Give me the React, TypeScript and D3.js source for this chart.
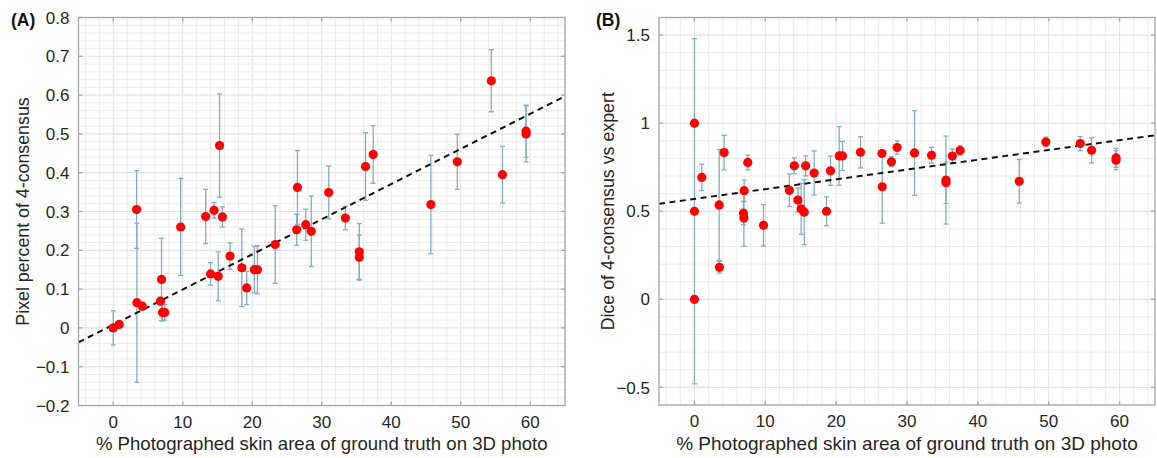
import React from "react";
import * as d3 from "d3";

// Panel A: Pixel percent of 4-consensus
const aX = [0, 0.86, 3.36, 3.4, 4.17, 6.8, 6.95, 7.1, 7.4, 9.7, 13.3, 14.0, 14.5, 15.1, 15.3, 15.7, 16.8, 18.5, 19.2, 20.3, 20.75, 23.3, 26.4, 26.5, 27.7, 28.5, 31.0, 33.4, 35.4, 35.4, 36.3, 37.4, 45.7, 49.5, 54.4, 56.0, 59.4, 59.4];
const aY = [0, 0.009, 0.305, 0.065, 0.056, 0.069, 0.125, 0.040, 0.040, 0.26, 0.287, 0.139, 0.303, 0.133, 0.47, 0.286, 0.185, 0.155, 0.103, 0.150, 0.150, 0.215, 0.253, 0.362, 0.266, 0.249, 0.349, 0.283, 0.196, 0.182, 0.416, 0.447, 0.318, 0.428, 0.637, 0.395, 0.507, 0.500];
const aErr = [0.044, 0.005, 0.1, 0.205, 0.01, 0.01, 0.106, 0.022, 0.02, 0.125, 0.07, 0.029, 0.02, 0.063, 0.133, 0.026, 0.034, 0.1, 0.043, 0.06, 0.062, 0.1, 0.04, 0.095, 0.04, 0.091, 0.068, 0.03, 0.073, 0.057, 0.087, 0.074, 0.127, 0.071, 0.08, 0.073, 0.067, 0.072];
const aFit = [0.0083, 0.00906]; // intercept, slope

// Panel B: Dice of 4-consensus vs expert
const bX = [0, 0, 0, 1.04, 3.49, 3.53, 4.19, 6.92, 6.98, 7.02, 7.53, 9.75, 13.4, 14.1, 14.6, 15.06, 15.5, 15.7, 16.9, 18.64, 19.2, 20.43, 20.9, 23.44, 26.46, 26.5, 27.8, 28.6, 31.06, 33.46, 35.5, 35.5, 36.4, 37.5, 45.84, 49.6, 54.45, 56.05, 59.5, 59.5];
const bY = [1.0, 0.5, 0.0, 0.692, 0.536, 0.182, 0.833, 0.489, 0.461, 0.617, 0.777, 0.42, 0.619, 0.758, 0.564, 0.514, 0.495, 0.758, 0.717, 0.50, 0.73, 0.814, 0.814, 0.835, 0.828, 0.639, 0.781, 0.862, 0.831, 0.818, 0.677, 0.662, 0.813, 0.845, 0.67, 0.893, 0.884, 0.846, 0.803, 0.79];
const bErr = [0, 0.98, 0.02, 0.075, 0.314, 0.033, 0.098, 0.066, 0.16, 0.06, 0.042, 0.118, 0.092, 0.045, 0.068, 0.145, 0.185, 0.057, 0.125, 0.082, 0.083, 0.166, 0.082, 0.089, 0.01, 0.207, 0.028, 0.038, 0.24, 0.045, 0.25, 0.118, 0.04, 0.027, 0.124, 0.028, 0.04, 0.072, 0.054, 0.054];
const bFit = [0.57, 0.00556];

const xTicks = [0, 10, 20, 30, 40, 50, 60];
const aYTicks = [-0.2, -0.1, 0, 0.1, 0.2, 0.3, 0.4, 0.5, 0.6, 0.7, 0.8];
const bYTicks = [-0.5, 0, 0.5, 1, 1.5];

const xLabel = "% Photographed skin area of ground truth on 3D photo";
const font = "'Liberation Sans', Arial, sans-serif";

type PanelProps = {
  left: number; right: number; top: number; bottom: number;
  xs: number[]; ys: number[]; errs: number[]; fit: number[];
  yDomain: [number, number]; yTicks: number[]; yMinorStep: number;
  yFmt: (v: number) => string; yLabel: string; tag: string;
  yLabelX: number; tagX: number; labelSize: number;
};

function Panel(p: PanelProps) {
  const x = d3.scaleLinear().domain([-5, 65]).range([p.left, p.right]);
  const y = d3.scaleLinear().domain(p.yDomain).range([p.bottom, p.top]);
  const xMinor = d3.range(-4, 65, 2);
  const nMinorY = Math.round((p.yDomain[1] - p.yDomain[0]) / p.yMinorStep);
  const yMinor = d3.range(0, nMinorY + 1).map((i) => p.yDomain[0] + i * p.yMinorStep);
  const line = d3.line<number>().x((v) => x(v)).y((v) => y(p.fit[0] + p.fit[1] * v));
  const errColor = "#82adc3";
  const axisColor = "#a6a6a6";
  const textColor = "#262626";
  const cap = 2.5;
  return (
    <g>
      <rect x={p.left} y={p.top} width={p.right - p.left} height={p.bottom - p.top} fill="#fff" />
      {xMinor.map((v, i) => (
        <line key={"xm" + i} x1={x(v)} x2={x(v)} y1={p.top} y2={p.bottom} stroke={v % 10 === 0 ? "#e2e2e2" : "#ededed"} strokeWidth={1} />
      ))}
      {yMinor.map((v, i) => (
        <line key={"ym" + i} x1={p.left} x2={p.right} y1={y(v)} y2={y(v)} stroke="#ededed" strokeWidth={1} />
      ))}
      {p.yTicks.map((v, i) => (
        <line key={"yg" + i} x1={p.left} x2={p.right} y1={y(v)} y2={y(v)} stroke="#e2e2e2" strokeWidth={1} />
      ))}
      {p.xs.map((xv, i) => {
        const e = p.errs[i];
        if (e <= 0) return null;
        const cx = x(xv);
        const y1 = y(p.ys[i] - e);
        const y2 = y(p.ys[i] + e);
        return (
          <g key={"e" + i} stroke={errColor} strokeWidth={1.3}>
            <line x1={cx} x2={cx} y1={y1} y2={y2} />
            <line x1={cx - cap} x2={cx + cap} y1={y1} y2={y1} />
            <line x1={cx - cap} x2={cx + cap} y1={y2} y2={y2} />
          </g>
        );
      })}
      <path d={line([-5, 65]) || ""} stroke="#111" strokeWidth={2} strokeDasharray="6,4.5" fill="none" />
      {p.xs.map((xv, i) => (
        <circle key={"c" + i} cx={x(xv)} cy={y(p.ys[i])} r={4.6} fill="#ff0000" />
      ))}
      <rect x={p.left} y={p.top} width={p.right - p.left} height={p.bottom - p.top} fill="none" stroke={axisColor} strokeWidth={1.3} />
      {xTicks.map((v, i) => (
        <g key={"xt" + i}>
          <line x1={x(v)} x2={x(v)} y1={p.bottom} y2={p.bottom - 4} stroke={axisColor} strokeWidth={1.3} />
          <line x1={x(v)} x2={x(v)} y1={p.top} y2={p.top + 4} stroke={axisColor} strokeWidth={1.3} />
          <text x={x(v)} y={p.bottom + 22} textAnchor="middle" fontSize={17} fontFamily={font} fill={textColor}>{v}</text>
        </g>
      ))}
      {p.yTicks.map((v, i) => (
        <g key={"yt" + i}>
          <line x1={p.left} x2={p.left + 4} y1={y(v)} y2={y(v)} stroke={axisColor} strokeWidth={1.3} />
          <line x1={p.right} x2={p.right - 4} y1={y(v)} y2={y(v)} stroke={axisColor} strokeWidth={1.3} />
          <text x={p.left - 9} y={y(v)} dy="0.36em" textAnchor="end" fontSize={17} fontFamily={font} fill={textColor}>{p.yFmt(v)}</text>
        </g>
      ))}
      <text x={(p.left + p.right) / 2} y={450} textAnchor="middle" fontSize={p.labelSize} fontFamily={font} fill={textColor}>{xLabel}</text>
      <text transform={`translate(${p.yLabelX},${(p.top + p.bottom) / 2}) rotate(-90)`} textAnchor="middle" fontSize={17.8} fontFamily={font} fill={textColor}>{p.yLabel}</text>
      <text x={p.tagX} y={25.5} fontSize={17.5} fontWeight="bold" fontFamily={font} fill="#111">{p.tag}</text>
    </g>
  );
}

const fmtA = (v: number) => (v < 0 ? "\u2212" + Math.abs(v).toFixed(1) : v === 0 ? "0" : v.toFixed(1));
const fmtB = (v: number) => (v < 0 ? "\u2212" + String(Math.abs(v)) : String(v));

export default function App() {
  return (
    <div style={{ position: "absolute", left: 0, top: 0 }}>
      <svg width={1157} height={458} style={{ display: "block", background: "#fff" }}>
        <Panel left={78.5} right={565} top={17.5} bottom={405.5}
          xs={aX} ys={aY} errs={aErr} fit={aFit}
          yDomain={[-0.2, 0.8]} yTicks={aYTicks} yMinorStep={0.02}
          yFmt={fmtA} yLabel="Pixel percent of 4-consensus" tag="(A)"
          yLabelX={29} tagX={11} labelSize={18.6} />
        <Panel left={659} right={1155} top={17.5} bottom={405}
          xs={bX} ys={bY} errs={bErr} fit={bFit}
          yDomain={[-0.6, 1.6]} yTicks={bYTicks} yMinorStep={0.1}
          yFmt={fmtB} yLabel="Dice of 4-consensus vs expert" tag="(B)"
          yLabelX={614} tagX={596} labelSize={19} />
      </svg>
    </div>
  );
}
